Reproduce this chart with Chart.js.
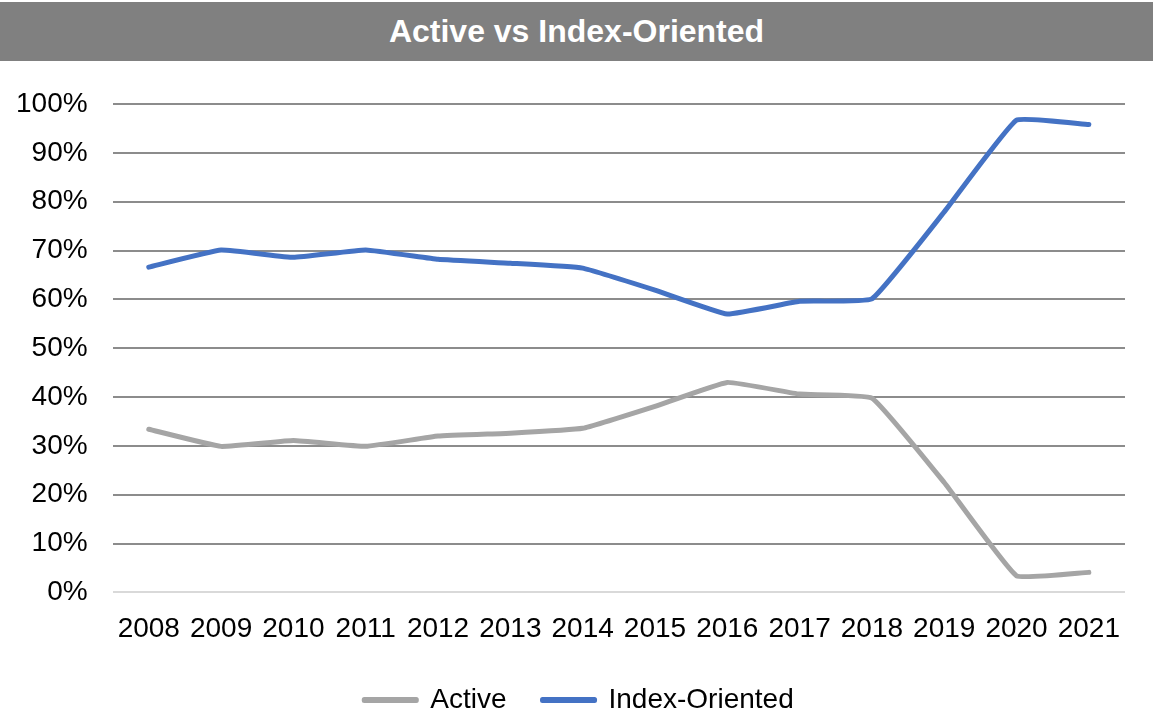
<!DOCTYPE html>
<html>
<head>
<meta charset="utf-8">
<script src="https://cdn.jsdelivr.net/npm/chart.js@4.4.1/dist/chart.umd.min.js"></script>
<style>
  html, body { margin:0; padding:0; background:#fff; }
  #wrap { position:relative; width:1153px; height:710px; }
  #title-bar {
    position:absolute; left:0; top:2px; width:1153px; height:59px;
    background:#808080; color:#fff; text-align:center;
    font-family:"Liberation Sans Narrow","Liberation Sans",Arial,sans-serif;
    font-weight:bold; font-size:32px; line-height:59px;
  }
  #chart { position:absolute; left:0; top:0; }
</style>
</head>
<body>
<div id="wrap">
  <canvas id="chart" width="1153" height="710"></canvas>
  <div id="title-bar">Active vs Index-Oriented</div>
</div>
<script>
// ── Data ─────────────────────────────────────────────────────
const years        = ['2008','2009','2010','2011','2012','2013','2014','2015','2016','2017','2018','2019','2020','2021'];
const activeVals   = [33.4, 29.9, 31.1, 29.9, 32.0, 32.6, 33.6, 38.1, 43.0, 40.6, 39.8, 22.5, 3.4, 4.1];
const indexVals    = [66.6, 70.1, 68.6, 70.1, 68.2, 67.4, 66.4, 61.9, 57.0, 59.6, 60.1, 77.9, 96.7, 95.8];
const yTicks       = [0, 10, 20, 30, 40, 50, 60, 70, 80, 90, 100];

const FONT = '"Liberation Sans", Arial, sans-serif';

// geser legend sedikit ke kanan agar tengahnya sama dengan gambar asli
const legendShift = {
  id: 'legendShift',
  afterLayout(chart) {
    if (chart.legend) { chart.legend.left += 21; chart.legend.right += 21; }
  }
};

new Chart(document.getElementById('chart'), {
  type: 'line',
  data: {
    labels: years,
    datasets: [
      { label: 'Active',         data: activeVals, borderColor:'#A5A5A5', backgroundColor:'#A5A5A5' },
      { label: 'Index-Oriented', data: indexVals,  borderColor:'#4472C4', backgroundColor:'#4472C4' }
    ]
  },
  plugins: [legendShift],
  options: {
    responsive: false,
    animation: false,
    layout: { padding: { top: 104, left: -9, right: 28, bottom: -14 } },
    elements: {
      line:  { borderWidth: 5, tension: 0.1, borderCapStyle: 'round', borderJoinStyle: 'round' },
      point: { radius: 0, hoverRadius: 0 }
    },
    plugins: {
      title: { display: false },
      tooltip: { enabled: false },
      legend: {
        position: 'bottom',
        labels: {
          color: '#000',
          font: { family: FONT, size: 28 },
          boxWidth: 52,
          boxHeight: 1,
          padding: 36
        }
      }
    },
    scales: {
      x: {
        offset: true,
        grid: { display: false, drawTicks: false },
        border: { display: false },
        afterFit: axis => { axis.height -= 16; },
        ticks: { color:'#000', font: { family: FONT, size: 28 }, padding: 20, maxRotation: 0, autoSkip: false }
      },
      y: {
        min: 0, max: 100,
        afterBuildTicks: axis => { axis.ticks = yTicks.map(v => ({ value: v })); },
        grid: {
          drawTicks: false,
          lineWidth: 2,
          color: ctx => (ctx.tick && ctx.tick.value === 0) ? '#D9D9D9' : '#8C8C8C'
        },
        border: { display: false },
        ticks: { color:'#000', font: { family: FONT, size: 28 }, padding: 25, callback: v => v + '%' }
      }
    }
  }
});
</script>
</body>
</html>
